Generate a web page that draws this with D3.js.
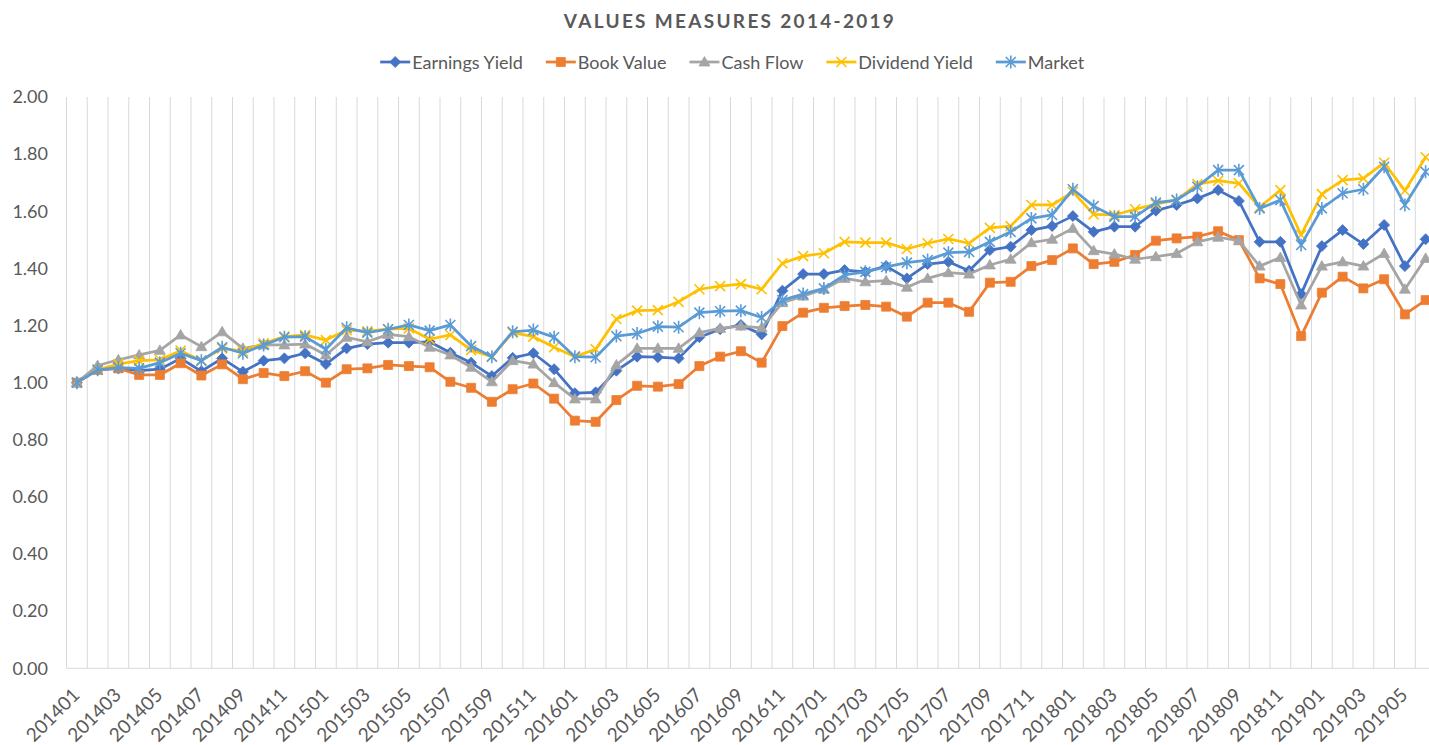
<!DOCTYPE html>
<html>
<head>
<meta charset="utf-8">
<script src="https://cdn.jsdelivr.net/npm/d3@7"></script>
<style>
body { margin: 0; background: #fff; }
text { font-family: Lato, "Open Sans", sans-serif; fill: #595959; }
</style>
</head>
<body>
<svg width="1429" height="745"></svg>
<script>
var months = [
    "201401","201402","201403","201404","201405","201406","201407","201408","201409","201410","201411","201412",
    "201501","201502","201503","201504","201505","201506","201507","201508","201509","201510","201511","201512",
    "201601","201602","201603","201604","201605","201606","201607","201608","201609","201610","201611","201612",
    "201701","201702","201703","201704","201705","201706","201707","201708","201709","201710","201711","201712",
    "201801","201802","201803","201804","201805","201806","201807","201808","201809","201810","201811","201812",
    "201901","201902","201903","201904","201905","201906"
];

var earningsYield = [
    1.000,1.045,1.050,1.042,1.047,1.085,1.040,1.085,1.038,1.077,1.085,1.103,
    1.065,1.120,1.135,1.140,1.140,1.143,1.105,1.070,1.023,1.087,1.103,1.047,
    0.963,0.966,1.042,1.091,1.089,1.085,1.159,1.187,1.202,1.169,1.322,1.380,
    1.380,1.394,1.388,1.408,1.365,1.415,1.423,1.392,1.464,1.476,1.534,1.548,
    1.583,1.528,1.546,1.546,1.602,1.622,1.645,1.674,1.636,1.493,1.493,1.310,
    1.478,1.534,1.485,1.552,1.408,1.502
];

var bookValue = [
    1.000,1.045,1.050,1.027,1.027,1.068,1.025,1.064,1.012,1.034,1.023,1.040,
    1.000,1.047,1.050,1.062,1.058,1.054,1.003,0.982,0.933,0.977,0.997,0.944,
    0.867,0.863,0.939,0.989,0.986,0.995,1.058,1.091,1.110,1.070,1.198,1.245,
    1.262,1.268,1.272,1.266,1.231,1.280,1.280,1.248,1.350,1.353,1.408,1.429,
    1.470,1.415,1.423,1.447,1.497,1.505,1.511,1.530,1.499,1.365,1.345,1.163,
    1.315,1.371,1.330,1.362,1.239,1.289
];

var cashFlow = [
    1.000,1.060,1.080,1.097,1.113,1.167,1.126,1.178,1.120,1.132,1.132,1.135,
    1.097,1.159,1.143,1.169,1.161,1.124,1.097,1.054,1.003,1.077,1.065,1.000,
    0.943,0.943,1.062,1.120,1.120,1.120,1.175,1.190,1.198,1.192,1.280,1.303,
    1.327,1.365,1.353,1.357,1.334,1.365,1.385,1.380,1.412,1.432,1.490,1.502,
    1.540,1.462,1.450,1.432,1.441,1.452,1.493,1.509,1.497,1.408,1.438,1.272,
    1.408,1.423,1.408,1.452,1.327,1.435
];

var dividendYield = [
    1.000,1.045,1.065,1.077,1.080,1.112,1.077,1.120,1.110,1.138,1.161,1.167,
    1.149,1.184,1.180,1.187,1.190,1.152,1.167,1.114,1.091,1.175,1.161,1.124,
    1.091,1.117,1.223,1.252,1.254,1.283,1.327,1.338,1.345,1.327,1.418,1.443,
    1.453,1.493,1.490,1.490,1.468,1.488,1.503,1.488,1.542,1.548,1.622,1.622,
    1.668,1.589,1.587,1.607,1.625,1.640,1.695,1.707,1.698,1.614,1.674,1.517,
    1.660,1.709,1.715,1.770,1.672,1.789
];

var market = [
    1.000,1.045,1.053,1.050,1.070,1.103,1.077,1.124,1.103,1.132,1.159,1.161,
    1.117,1.192,1.175,1.187,1.202,1.182,1.202,1.128,1.091,1.178,1.184,1.159,
    1.091,1.089,1.163,1.172,1.196,1.194,1.245,1.250,1.252,1.228,1.289,1.310,
    1.330,1.377,1.388,1.405,1.420,1.429,1.455,1.458,1.493,1.528,1.575,1.587,
    1.677,1.618,1.581,1.581,1.630,1.639,1.686,1.744,1.744,1.610,1.639,1.482,
    1.610,1.663,1.677,1.756,1.622,1.738
];

var seriesNames = ["Earnings Yield", "Book Value", "Cash Flow", "Dividend Yield", "Market"];
var yTicks = [0, 0.2, 0.4, 0.6, 0.8, 1.0, 1.2, 1.4, 1.6, 1.8, 2.0];

var series = [
    { name: seriesNames[0], values: earningsYield, color: "#4472C4", marker: "diamond" },
    { name: seriesNames[1], values: bookValue,     color: "#ED7D31", marker: "square" },
    { name: seriesNames[2], values: cashFlow,      color: "#A5A5A5", marker: "triangle" },
    { name: seriesNames[3], values: dividendYield, color: "#FFC000", marker: "x" },
    { name: seriesNames[4], values: market,        color: "#5B9BD5", marker: "star" }
];

var markerPaths = {
    diamond: "M0,-5.5L5.5,0L0,5.5L-5.5,0Z",
    square: "M-4.5,-4.5h9v9h-9Z",
    triangle: "M0,-5.5L5.5,4L-5.5,4Z",
    x: "M-5,-5L5,5M-5,5L5,-5",
    star: "M-5,-5L5,5M-5,5L5,-5M0,-6.5L0,6.5"
};

var svg = d3.select("svg");

var plotLeft = 66.5, plotRight = 1436, plotTop = 97, plotBottom = 668.3;

var x = d3.scaleBand()
    .domain(months)
    .range([plotLeft, plotRight])
    .padding(0);

var y = d3.scaleLinear()
    .domain([0, 2])
    .range([plotBottom, plotTop]);

function cx(d) { return x(d) + x.bandwidth() / 2; }

// vertical gridlines between categories
var grid = svg.append("g");
grid.selectAll("line")
    .data(months.concat(["end"]))
    .enter().append("line")
    .attr("x1", function(d, i) { return plotLeft + i * x.bandwidth(); })
    .attr("x2", function(d, i) { return plotLeft + i * x.bandwidth(); })
    .attr("y1", plotTop)
    .attr("y2", plotBottom)
    .attr("stroke", "#d9d9d9")
    .attr("stroke-width", 1);

// baseline
svg.append("line")
    .attr("x1", plotLeft).attr("x2", plotRight)
    .attr("y1", y(0)).attr("y2", y(0))
    .attr("stroke", "#d9d9d9")
    .attr("stroke-width", 1);

// y axis labels
var yAxis = d3.axisLeft(y)
    .tickValues(yTicks)
    .tickFormat(d3.format(".2f"))
    .tickSize(0)
    .tickPadding(0);

var yg = svg.append("g")
    .attr("transform", "translate(48,0)")
    .call(yAxis);
yg.select(".domain").remove();
yg.selectAll("text")
    .style("font-size", "18px")
    .style("font-family", "Lato, sans-serif")
    .attr("fill", "#595959");

// x axis labels, every second month
var xAxis = d3.axisBottom(x)
    .tickValues(months.filter(function(d, i) { return i % 2 === 0; }))
    .tickSize(0)
    .tickPadding(0);

var xg = svg.append("g")
    .attr("transform", "translate(0," + plotBottom + ")")
    .call(xAxis);
xg.select(".domain").remove();
xg.selectAll("text")
    .style("font-size", "19px")
    .style("font-family", "Lato, sans-serif")
    .attr("fill", "#595959")
    .attr("text-anchor", "end")
    .attr("dy", null)
    .attr("y", 0)
    .attr("transform", "translate(4,28) rotate(-45)");

// series
var line = d3.line()
    .x(function(d, i) { return cx(months[i]); })
    .y(function(d) { return y(d); });

function drawMarker(sel, s) {
    var stroked = (s.marker === "x" || s.marker === "star");
    sel.attr("d", markerPaths[s.marker])
        .attr("fill", stroked ? "none" : s.color)
        .attr("stroke", s.color)
        .attr("stroke-width", stroked ? 1.6 : 0.8);
}

series.forEach(function(s) {
    var g = svg.append("g");
    g.append("path")
        .datum(s.values)
        .attr("d", line)
        .attr("fill", "none")
        .attr("stroke", s.color)
        .attr("stroke-width", 2.75)
        .attr("stroke-linejoin", "round");
    g.selectAll(".mk")
        .data(s.values)
        .enter().append("path")
        .attr("class", "mk")
        .attr("transform", function(d, i) { return "translate(" + cx(months[i]) + "," + y(d) + ")"; })
        .call(drawMarker, s);
});

// title
svg.append("text")
    .attr("x", 730)
    .attr("y", 28)
    .attr("text-anchor", "middle")
    .style("font-size", "19px")
    .style("font-weight", "bold")
    .style("letter-spacing", "2.3px")
    .text("VALUES MEASURES 2014-2019");

// legend
var legend = svg.append("g");
var items = legend.selectAll("g")
    .data(series)
    .enter().append("g");
items.append("line")
    .attr("x1", 0).attr("x2", 30)
    .attr("y1", 0).attr("y2", 0)
    .attr("stroke", function(d) { return d.color; })
    .attr("stroke-width", 2.75);
items.append("path")
    .attr("transform", "translate(15,0)")
    .each(function(d) { d3.select(this).call(drawMarker, d); });
items.append("text")
    .attr("x", 32)
    .attr("y", 6.5)
    .style("font-size", "18px")
    .text(function(d) { return d.name; });

var widths = [];
items.each(function() { widths.push(this.getBBox().width); });
var gap = 23;
var total = d3.sum(widths) + gap * (widths.length - 1);
var pos = 732.5 - total / 2;
items.attr("transform", function(d, i) {
    var t = "translate(" + pos + ",62)";
    pos += widths[i] + gap;
    return t;
});
</script>
</body>
</html>
